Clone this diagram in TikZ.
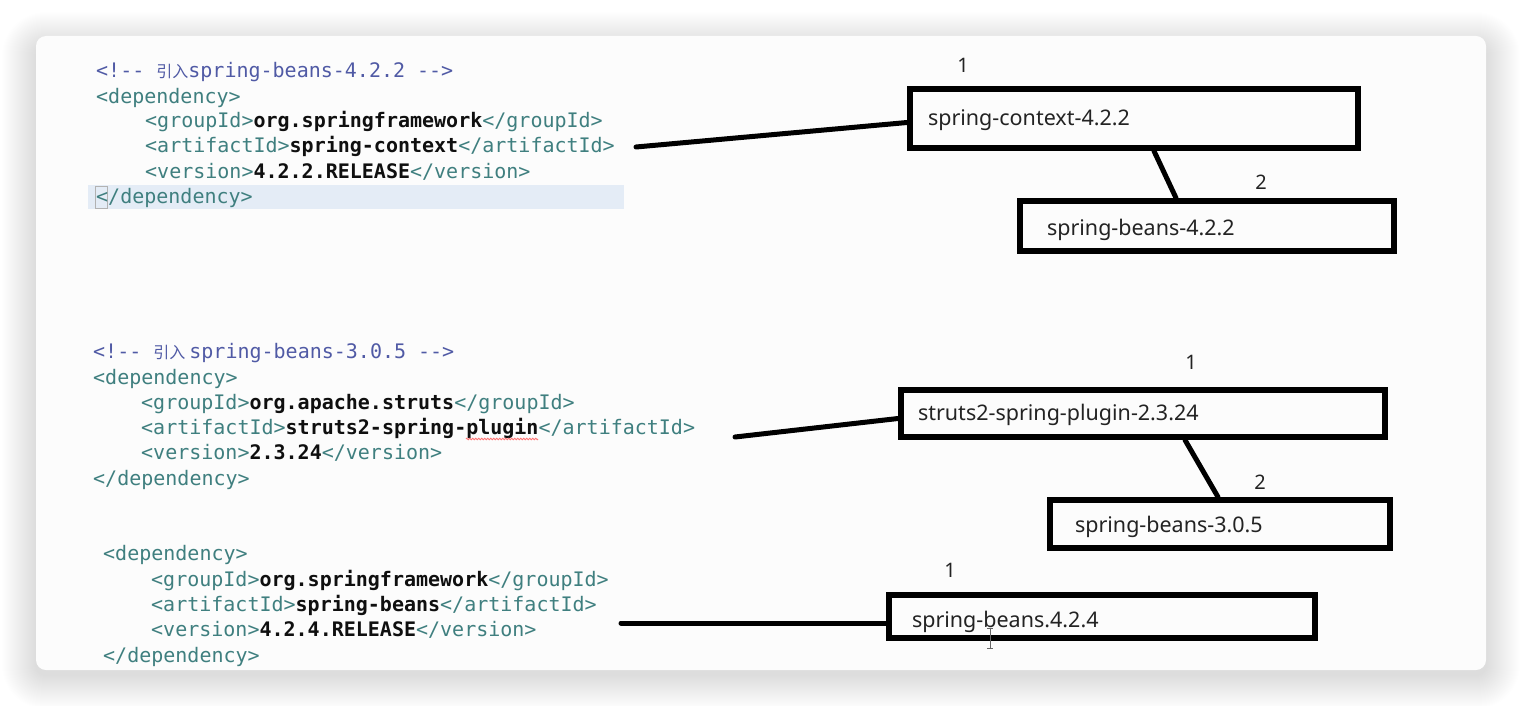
\documentclass[tikz,border=0pt]{standalone}
\usepackage{fontspec}
\usetikzlibrary{calc,decorations.pathmorphing}
\newfontfamily\codefont{DejaVu Sans Mono}
\newfontfamily\cjkfont{Noto Sans CJK SC}
\newfontfamily\boxfont{Noto Sans}
\definecolor{tagc}{RGB}{63,127,127}
\definecolor{comc}{RGB}{80,90,165}
\definecolor{txtc}{RGB}{15,15,15}
\definecolor{hilite}{RGB}{228,236,246}
\definecolor{cardc}{RGB}{252,252,252}
\definecolor{boxtxt}{RGB}{35,35,35}
\newcommand{\xtag}[1]{\textcolor{tagc}{#1}}
\newcommand{\xtxt}[1]{\textcolor{txtc}{\bfseries #1}}
\newcommand{\xcjk}[1]{{\cjkfont\fontsize{16}{20}\selectfont #1}}
\begin{document}
\begin{tikzpicture}[x=1pt,y=-1pt,
  code/.style={anchor=base west, inner sep=0pt, font=\codefont\fontsize{20}{24}\selectfont},
  box/.style={draw=black, line width=6pt, rectangle, inner ysep=0pt, align=left, font=\boxfont\fontsize{21.5}{26}\selectfont, text=boxtxt, anchor=center, text depth=5pt},
  lbl/.style={font=\boxfont\fontsize{20}{24}\selectfont, text=boxtxt, inner sep=0pt},
  conn/.style={draw=black, line width=5pt, line cap=round}]
\fill[white] (0,0) rectangle (1522,706);
\path[use as bounding box] (0,0) rectangle (1522,706);
% soft shadow
\foreach \i in {1,...,34}{
  \pgfmathsetmacro{\d}{1.0*\i}
  \pgfmathsetmacro{\r}{10+\d}
  \fill[black, opacity=0.0055, rounded corners=\r pt] (36-\d,36-\d+10) rectangle (1486+\d,670+\d+5);
}
\fill[cardc, rounded corners=10pt] (36,36) rectangle (1486,670);

% highlight of current line
\fill[hilite] (88,185) rectangle (624,209);
\draw[gray!60, line width=0.8pt] (95,186) rectangle (107,208);

% block 1
\node[code] (a0) at (96,78) {\textcolor{comc}{<!-{}- \xcjk{引入}spring-beans-4.2.2 -{}->}};
\node[code] (a1) at (96,103) {\xtag{<dependency>}};
\node[code] (a2) at (145,128) {\xtag{<groupId>}\xtxt{org.springframework}\xtag{</groupId>}};
\node[code] (a3) at (145,153) {\xtag{<artifactId>}\xtxt{spring-context}\xtag{</artifactId>}};
\node[code] (a4) at (145,178) {\xtag{<version>}\xtxt{4.2.2.RELEASE}\xtag{</version>}};
\node[code] (a5) at (96,203) {\xtag{</dependency>}};

% block 2
\node[code] (b0) at (93,358) {\textcolor{comc}{<!-{}- \xcjk{引入}\kern4pt spring-beans-3.0.5 -{}->}};
\node[code] (b1) at (93,384) {\xtag{<dependency>}};
\node[code] (b2) at (141,409) {\xtag{<groupId>}\xtxt{org.apache.struts}\xtag{</groupId>}};
\node[code] (b3) at (141,434) {\xtag{<artifactId>}\xtxt{struts2-spring-plugin}\xtag{</artifactId>}};
\node[code] (b4) at (141,459) {\xtag{<version>}\xtxt{2.3.24}\xtag{</version>}};
\node[code] (b5) at (93,485) {\xtag{</dependency>}};
\draw[red!55, line width=0.8pt, decorate, decoration={zigzag, segment length=3pt, amplitude=0.8pt}] (466,439) -- (538,439);

% block 3
\node[code] (c1) at (103,560) {\xtag{<dependency>}};
\node[code] (c2) at (151,586) {\xtag{<groupId>}\xtxt{org.springframework}\xtag{</groupId>}};
\node[code] (c3) at (151,611) {\xtag{<artifactId>}\xtxt{spring-beans}\xtag{</artifactId>}};
\node[code] (c4) at (151,636) {\xtag{<version>}\xtxt{4.2.4.RELEASE}\xtag{</version>}};
\node[code] (c5) at (103,662) {\xtag{</dependency>}};

% boxes
\node[box, inner xsep=18pt, text width=412pt, minimum height=59pt, text height=19pt] (k1) at (1134,118.5) {spring-context-4.2.2};
\node[box, inner xsep=27pt, text width=320pt, minimum height=50pt, text height=24pt] (k2) at (1207,226) {spring-beans-4.2.2};
\node[box, inner xsep=17pt, text width=450pt, minimum height=47pt, text height=19pt] (k3) at (1143,413.5) {struts2-spring-plugin-2.3.24};
\node[box, inner xsep=25pt, text width=290pt, minimum height=48pt, text height=21pt] (k4) at (1220,524) {spring-beans-3.0.5};
\node[box, inner xsep=23pt, text width=380pt, minimum height=43pt, text height=27pt] (k5) at (1102,616.5) {spring-beans.4.2.4};

% labels
\node[lbl] (l1) at (963,65) {1};
\node[lbl] (l2) at (1261,182) {2};
\node[lbl] (l3) at (1191,362) {1};
\node[lbl] (l4) at (1260,482) {2};
\node[lbl] (l5) at (950,570) {1};

% connectors
\coordinate (s1) at (636,147);
\coordinate (s3) at (735,437);
\coordinate (s5) at (621,623);
\coordinate (x1) at (1154,0);
\coordinate (x2) at (1176,0);
\coordinate (x3) at (1185,0);
\coordinate (x4) at (1218,0);
\draw[conn] (s1) -- ([yshift=-4pt]k1.west);
\draw[conn] (k1.south -| x1) -- (k2.north -| x2);
\draw[conn] (s3) -- ([yshift=-5pt]k3.west);
\draw[conn] (k3.south -| x3) -- (k4.north -| x4);
\draw[conn] (s5) -- ([yshift=-6.5pt]k5.west);

% text cursor
\draw[gray!80!black, line width=1pt] (990,628) -- (990,648) (987,628) -- (993,628) (987,648) -- (993,648);
\end{tikzpicture}
\end{document}
